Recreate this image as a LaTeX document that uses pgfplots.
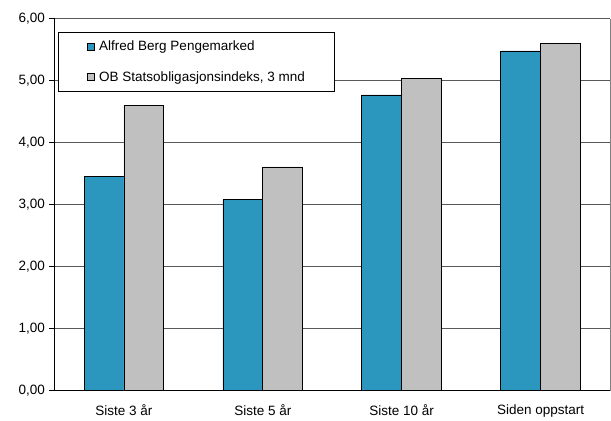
\documentclass[border=0pt]{standalone}
\usepackage{fontspec}
\setmainfont{Liberation Sans}
\usepackage{pgfplots}
\pgfplotsset{compat=1.18}
\definecolor{barblue}{RGB}{43,151,191}
\definecolor{bargray}{RGB}{192,192,192}
\begin{document}
\begin{tikzpicture}
\useasboundingbox (-54.5bp,-30.3bp) rectangle (556.5bp,390.7bp);
\begin{axis}[
  at={(0,0)}, anchor=south west,
  scale only axis,
  width=555.5bp, height=372bp,
  ybar=0pt, bar width=0.287,
  xmin=-0.5, xmax=3.5,
  ymin=0, ymax=6,
  ytick={0,1,2,3,4,5,6},
  xtick={0,1,2,3},
  xticklabels={Siste 3 år, Siste 5 år, Siste 10 år, Siden oppstart},
  extra x ticks={-0.5,0.5,1.5,2.5,3.5},
  extra x tick labels={},
  extra x tick style={major tick length=5bp, tick style={black, line width=0.7pt}, xtick align=outside},
  x tick style={draw=none},
  y tick style={black, line width=0.7pt},
  tick align=outside,
  major tick length=5bp,
  axis x line*=bottom, axis y line*=left,
  axis line style={black, line width=0.9pt, -},
  ymajorgrids, grid style={black!65, line width=0.7pt},
  every tick label/.append style={font=\fontsize{13.5bp}{16bp}\selectfont},
  xticklabel style={yshift=-5bp},
  yticklabel style={xshift=-1bp},
  /pgf/number format/.cd, fixed, fixed zerofill, precision=2, use comma, assume math mode=true,
  /pgfplots/.cd,
  legend cell align=left,
  legend style={at={(0.0068,0.965)}, anchor=north west, draw=black, line width=0.7pt,
    font=\fontsize{13.5bp}{16bp}\selectfont, inner xsep=28bp, inner ysep=7bp, row sep=15bp,
    nodes={inner sep=2bp},
    /tikz/every odd column/.append style={column sep=3bp}},
  legend image code/.code={\draw[#1, draw=black, line width=0.6pt] (1.5bp,-3.5bp) rectangle (8.5bp,3.5bp);},
]
\addplot[fill=barblue, draw=black, line width=0.7pt] coordinates {(0,3.46) (1,3.08) (2,4.77) (3,5.48)};
\addplot[fill=bargray, draw=black, line width=0.7pt] coordinates {(0,4.60) (1,3.61) (2,5.03) (3,5.60)};
\legend{Alfred Berg Pengemarked, OB Statsobligasjonsindeks{,} 3 mnd}
\end{axis}
\draw[black!50, line width=0.9pt] (555.5bp,0) -- (555.5bp,372bp);
\end{tikzpicture}
\end{document}
